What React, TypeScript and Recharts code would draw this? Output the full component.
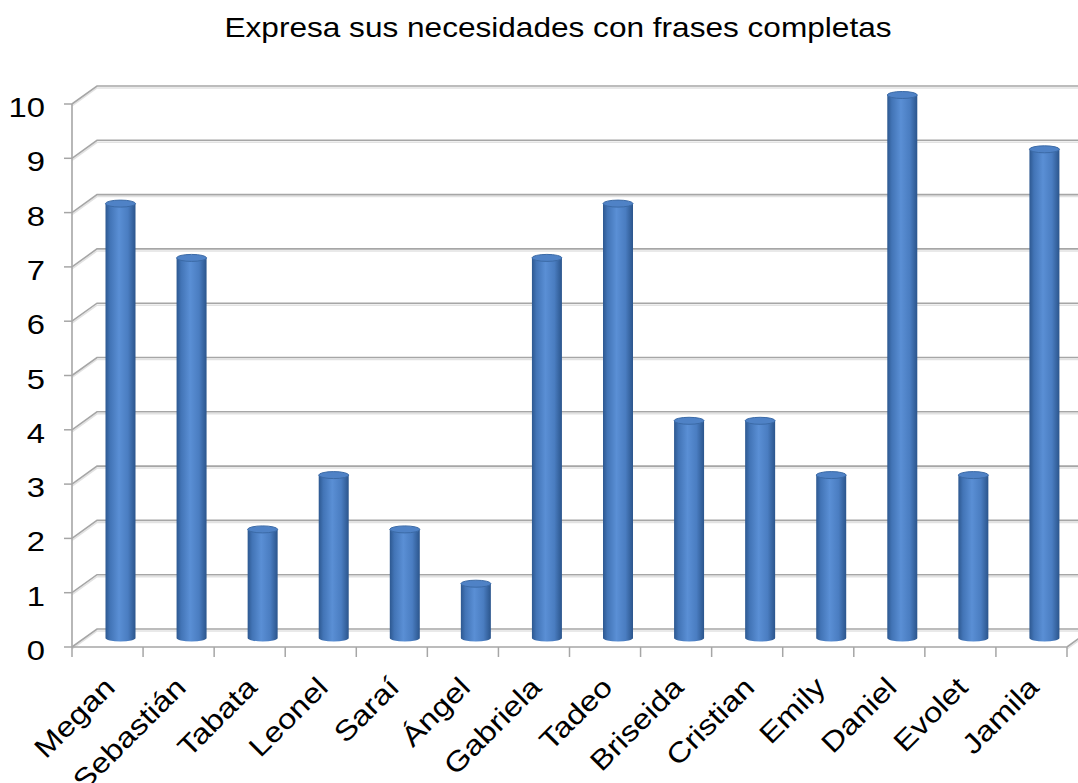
import React from 'react';
import { BarChart, Bar, XAxis, YAxis, CartesianGrid } from 'recharts';

const title = 'Expresa sus necesidades con frases completas';
const names = [
  'Megan', 'Sebastián', 'Tabata', 'Leonel', 'Saraí', 'Ángel', 'Gabriela',
  'Tadeo', 'Briseida', 'Cristian', 'Emily', 'Daniel', 'Evolet', 'Jamila',
];
const values = [8, 7, 2, 3, 2, 1, 7, 8, 4, 4, 3, 10, 3, 9];
const yTicks = [0, 1, 2, 3, 4, 5, 6, 7, 8, 9, 10];

const data = names.map((name, i) => ({ name, value: values[i] }));

const W = 1078;
const H = 783;
const Y_AXIS_W = 64;
const X_AXIS_H = 120;
const MARGIN = { top: 104, right: 11, left: 8, bottom: 16 };
const FLOOR_Y = H - MARGIN.bottom - X_AXIS_H;
const PLOT_W = W - MARGIN.left - Y_AXIS_W - MARGIN.right;
const BAND = PLOT_W / names.length;

// fake 3D: back wall sits up and to the right of the axes
const DX = 25;
const DY = -18;
// the original text is drawn wider than plain Arial
const STRETCH = 1.17;
const FONT = '"Liberation Sans", Arial, sans-serif';
const GRID = '#a6a6a6';

const GridLine = (props: any) => {
  const { x1, y1, x2, y2 } = props;
  const isFloor = Math.abs(y1 - FLOOR_Y) < 1;
  let d = `M${x1},${y1} L${x1 + DX},${y1 + DY} L${x2 + DX},${y2 + DY}`;
  if (isFloor) d += ` M${x2},${y2} L${x2 + DX},${y2 + DY}`;
  return (
    <g key={props.key ?? `g-${y1}`}>
      <path d={d} transform="translate(0,2)" stroke="#e2e2e2" strokeWidth={1.5} fill="none" />
      <path d={d} stroke={GRID} strokeWidth={1.6} fill="none" />
    </g>
  );
};

const YTick = (props: any) => {
  const { y, payload } = props;
  return (
    <text
      transform={`translate(45,${y + 13}) scale(${STRETCH},1)`}
      textAnchor="end"
      fontSize={28}
      fontFamily={FONT}
      fill="#000"
    >
      {payload.value}
    </text>
  );
};

const XTick = (props: any) => {
  const { x, payload, index } = props;
  const left = x - BAND / 2;
  const right = x + BAND / 2;
  const ax = x + 9;
  const ay = FLOOR_Y + 42;
  return (
    <g>
      <line x1={left} y1={FLOOR_Y} x2={left} y2={FLOOR_Y + 10} stroke={GRID} strokeWidth={1.5} />
      {index === names.length - 1 && (
        <line x1={right} y1={FLOOR_Y} x2={right} y2={FLOOR_Y + 10} stroke={GRID} strokeWidth={1.5} />
      )}
      <text
        transform={`translate(${ax},${ay}) rotate(-45) scale(${STRETCH},1)`}
        textAnchor="end"
        fontSize={28}
        fontFamily={FONT}
        fill="#000"
      >
        {payload.value}
      </text>
    </g>
  );
};

const Cylinder = (props: any) => {
  const { x, y, width, height, index } = props;
  if (!height) return null;
  const x0 = x + DX / 2;
  const x1 = x0 + width;
  const top = y + DY / 2;
  const bottom = y + height + DY / 2;
  const rx = width / 2;
  const ry = 3.5;
  const id = `cyl-${index}`;
  return (
    <g>
      <defs>
        <linearGradient id={id} x1="0" y1="0" x2="1" y2="0">
          <stop offset="0%" stopColor="#2d5890" />
          <stop offset="15%" stopColor="#4274b6" />
          <stop offset="45%" stopColor="#5a8fd5" />
          <stop offset="75%" stopColor="#4a7dc1" />
          <stop offset="100%" stopColor="#2b558c" />
        </linearGradient>
      </defs>
      <path
        d={`M${x0},${top} L${x0},${bottom} A${rx},${ry} 0 0 0 ${x1},${bottom} L${x1},${top} Z`}
        fill={`url(#${id})`}
      />
      <ellipse cx={x0 + rx} cy={top} rx={rx} ry={ry} fill="#4f82c6" stroke="#3b6aa6" strokeWidth={1} />
    </g>
  );
};

export default function App() {
  return (
    <div style={{ position: 'absolute', left: 0, top: 0, width: W, height: H, background: '#fff' }}>
      <svg width={W} height={60} style={{ position: 'absolute', left: 0, top: 0 }}>
        <text
          transform={`translate(558,37) scale(${STRETCH},1)`}
          textAnchor="middle"
          fontSize={27}
          fontFamily={FONT}
          fill="#000"
        >
          {title}
        </text>
      </svg>
      <BarChart width={W} height={H} data={data} margin={MARGIN} barSize={30}>
        <CartesianGrid vertical={false} horizontal={GridLine} />
        <XAxis
          dataKey="name"
          height={X_AXIS_H}
          interval={0}
          tickLine={false}
          axisLine={{ stroke: GRID, strokeWidth: 1.6 }}
          tick={XTick}
        />
        <YAxis
          type="number"
          domain={[0, 10]}
          ticks={yTicks}
          interval={0}
          width={Y_AXIS_W}
          tickSize={8}
          axisLine={{ stroke: GRID, strokeWidth: 1.6 }}
          tickLine={{ stroke: GRID, strokeWidth: 1.5 }}
          tick={YTick}
        />
        <Bar dataKey="value" shape={Cylinder} isAnimationActive={false} />
      </BarChart>
    </div>
  );
}
